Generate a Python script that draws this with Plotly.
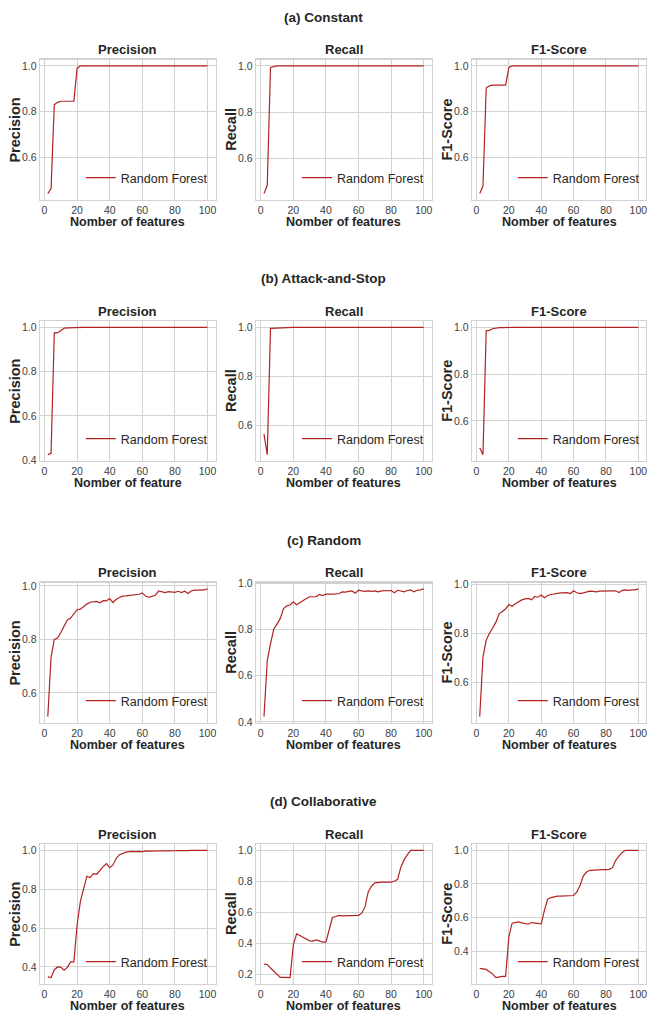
import plotly.graph_objects as go

W, H = 647, 1015

# ---------------- data ----------------
n_features = [2, 4, 6, 8, 10, 12, 14, 16, 18, 20,
              22, 24, 26, 28, 30, 32, 34, 36, 38, 40,
              42, 44, 46, 48, 50, 52, 54, 56, 58, 60,
              62, 64, 66, 68, 70, 72, 74, 76, 78, 80,
              82, 84, 86, 88, 90, 92, 94, 96, 98, 100]

constant_precision = [0.440, 0.462, 0.830, 0.840, 0.845, 0.845, 0.845, 0.845, 0.845, 0.990,
                      1.000, 1.000, 1.000, 1.000, 1.000, 1.000, 1.000, 1.000, 1.000, 1.000,
                      1.000, 1.000, 1.000, 1.000, 1.000, 1.000, 1.000, 1.000, 1.000, 1.000,
                      1.000, 1.000, 1.000, 1.000, 1.000, 1.000, 1.000, 1.000, 1.000, 1.000,
                      1.000, 1.000, 1.000, 1.000, 1.000, 1.000, 1.000, 1.000, 1.000, 1.000]
constant_recall = [0.446, 0.482, 0.993, 0.998, 1.000, 1.000, 1.000, 1.000, 1.000, 1.000,
                   1.000, 1.000, 1.000, 1.000, 1.000, 1.000, 1.000, 1.000, 1.000, 1.000,
                   1.000, 1.000, 1.000, 1.000, 1.000, 1.000, 1.000, 1.000, 1.000, 1.000,
                   1.000, 1.000, 1.000, 1.000, 1.000, 1.000, 1.000, 1.000, 1.000, 1.000,
                   1.000, 1.000, 1.000, 1.000, 1.000, 1.000, 1.000, 1.000, 1.000, 1.000]
constant_f1 = [0.442, 0.475, 0.903, 0.913, 0.916, 0.916, 0.916, 0.916, 0.916, 0.993,
               1.000, 1.000, 1.000, 1.000, 1.000, 1.000, 1.000, 1.000, 1.000, 1.000,
               1.000, 1.000, 1.000, 1.000, 1.000, 1.000, 1.000, 1.000, 1.000, 1.000,
               1.000, 1.000, 1.000, 1.000, 1.000, 1.000, 1.000, 1.000, 1.000, 1.000,
               1.000, 1.000, 1.000, 1.000, 1.000, 1.000, 1.000, 1.000, 1.000, 1.000]

attack_precision = [0.425, 0.431, 0.975, 0.976, 0.985, 0.997, 0.998, 0.999, 0.999, 1.000,
                    1.000, 1.000, 1.000, 1.000, 1.000, 1.000, 1.000, 1.000, 1.000, 1.000,
                    1.000, 1.000, 1.000, 1.000, 1.000, 1.000, 1.000, 1.000, 1.000, 1.000,
                    1.000, 1.000, 1.000, 1.000, 1.000, 1.000, 1.000, 1.000, 1.000, 1.000,
                    1.000, 1.000, 1.000, 1.000, 1.000, 1.000, 1.000, 1.000, 1.000, 1.000]
attack_recall = [0.563, 0.479, 0.996, 0.997, 0.998, 0.999, 0.999, 1.000, 1.000, 1.000,
                 1.000, 1.000, 1.000, 1.000, 1.000, 1.000, 1.000, 1.000, 1.000, 1.000,
                 1.000, 1.000, 1.000, 1.000, 1.000, 1.000, 1.000, 1.000, 1.000, 1.000,
                 1.000, 1.000, 1.000, 1.000, 1.000, 1.000, 1.000, 1.000, 1.000, 1.000,
                 1.000, 1.000, 1.000, 1.000, 1.000, 1.000, 1.000, 1.000, 1.000, 1.000]
attack_f1 = [0.485, 0.456, 0.986, 0.987, 0.994, 0.998, 0.999, 0.999, 1.000, 1.000,
             1.000, 1.000, 1.000, 1.000, 1.000, 1.000, 1.000, 1.000, 1.000, 1.000,
             1.000, 1.000, 1.000, 1.000, 1.000, 1.000, 1.000, 1.000, 1.000, 1.000,
             1.000, 1.000, 1.000, 1.000, 1.000, 1.000, 1.000, 1.000, 1.000, 1.000,
             1.000, 1.000, 1.000, 1.000, 1.000, 1.000, 1.000, 1.000, 1.000, 1.000]

random_precision = [0.511, 0.734, 0.800, 0.805, 0.826, 0.850, 0.873, 0.880, 0.897, 0.911,
                    0.913, 0.923, 0.932, 0.939, 0.940, 0.942, 0.937, 0.945, 0.944, 0.953,
                    0.938, 0.950, 0.957, 0.962, 0.963, 0.965, 0.967, 0.967, 0.969, 0.974,
                    0.962, 0.957, 0.960, 0.965, 0.981, 0.978, 0.975, 0.979, 0.978, 0.976,
                    0.980, 0.975, 0.980, 0.972, 0.981, 0.984, 0.984, 0.985, 0.985, 0.989]
random_recall = [0.423, 0.666, 0.738, 0.803, 0.824, 0.849, 0.892, 0.904, 0.907, 0.921,
                 0.908, 0.918, 0.925, 0.935, 0.943, 0.944, 0.943, 0.953, 0.948, 0.954,
                 0.953, 0.954, 0.955, 0.957, 0.964, 0.963, 0.966, 0.968, 0.958, 0.971,
                 0.968, 0.966, 0.968, 0.966, 0.968, 0.964, 0.968, 0.968, 0.968, 0.970,
                 0.960, 0.971, 0.968, 0.964, 0.970, 0.973, 0.964, 0.971, 0.973, 0.977]
random_f1 = [0.460, 0.704, 0.772, 0.801, 0.822, 0.846, 0.880, 0.891, 0.900, 0.918,
             0.911, 0.921, 0.930, 0.937, 0.941, 0.943, 0.937, 0.951, 0.948, 0.957,
             0.946, 0.955, 0.959, 0.962, 0.965, 0.966, 0.966, 0.967, 0.963, 0.974,
             0.966, 0.963, 0.966, 0.969, 0.973, 0.972, 0.970, 0.973, 0.973, 0.973,
             0.972, 0.973, 0.974, 0.967, 0.976, 0.978, 0.976, 0.978, 0.978, 0.982]

collab_precision = [0.349, 0.345, 0.386, 0.400, 0.398, 0.383, 0.398, 0.426, 0.426, 0.617,
                    0.737, 0.797, 0.867, 0.860, 0.880, 0.877, 0.899, 0.916, 0.932, 0.911,
                    0.925, 0.959, 0.978, 0.986, 0.991, 0.993, 0.995, 0.993, 0.995, 0.993,
                    0.997, 0.996, 0.997, 0.996, 0.998, 0.997, 0.998, 0.997, 0.999, 0.998,
                    0.999, 0.998, 0.999, 0.999, 1.000, 0.999, 1.000, 1.000, 1.000, 1.000]
collab_recall = [0.264, 0.262, 0.239, 0.217, 0.202, 0.179, 0.179, 0.177, 0.177, 0.389,
                 0.460, 0.449, 0.439, 0.428, 0.415, 0.413, 0.421, 0.415, 0.406, 0.406,
                 0.486, 0.566, 0.572, 0.579, 0.576, 0.576, 0.576, 0.576, 0.576, 0.580,
                 0.594, 0.636, 0.733, 0.768, 0.790, 0.794, 0.794, 0.794, 0.794, 0.794,
                 0.800, 0.813, 0.893, 0.940, 0.972, 1.000, 1.000, 1.000, 1.000, 1.000]
collab_f1 = [0.297, 0.295, 0.291, 0.277, 0.263, 0.242, 0.248, 0.250, 0.250, 0.486,
             0.566, 0.570, 0.574, 0.568, 0.564, 0.560, 0.570, 0.568, 0.564, 0.562,
             0.644, 0.709, 0.719, 0.725, 0.727, 0.727, 0.727, 0.727, 0.727, 0.731,
             0.752, 0.792, 0.848, 0.871, 0.881, 0.883, 0.884, 0.884, 0.885, 0.885,
             0.887, 0.897, 0.941, 0.966, 0.988, 1.000, 1.000, 1.000, 1.000, 1.000]

scenario_titles = ["(a) Constant", "(b) Attack-and-Stop", "(c) Random", "(d) Collaborative"]
metric_names = ["Precision", "Recall", "F1-Score"]
x_labels = [["Nomber of features", "Nomber of features", "Nomber of features"],
            ["Nomber of feature", "Nomber of features", "Nomber of features"],
            ["Nomber of features", "Nomber of features", "Nomber of features"],
            ["Nomber of features", "Nomber of features", "Nomber of features"]]
series_grid = [[constant_precision, constant_recall, constant_f1],
               [attack_precision, attack_recall, attack_f1],
               [random_precision, random_recall, random_f1],
               [collab_precision, collab_recall, collab_f1]]
series_name = "Random Forest"
x_ticks = [0, 20, 40, 60, 80, 100]

# ---------------- style / layout ----------------
RED = "#b22222"
GRID = "#d2d2d2"
TXT = "#262626"
FONT = "Liberation Sans, Arial, Helvetica, sans-serif"

# pixel boxes of the plot areas
col_px = [(39.8, 215.5), (256.0, 431.7), (471.8, 646.3)]
row_px = [(59.5, 200.0), (321.0, 461.0), (582.5, 723.0), (844.0, 984.0)]


def px_x(v):
    return v / W


def px_y(v):
    return 1 - v / H


fig = go.Figure()
annotations = []
layout = dict(
    width=W, height=H,
    margin=dict(l=0, r=0, t=0, b=0),
    paper_bgcolor="white", plot_bgcolor="white",
    template="none",
    showlegend=True,
)

xmin, xmax = min(n_features), max(n_features)
xpad = 0.05 * (xmax - xmin)

for r in range(4):
    top, bot = row_px[r]
    annotations.append(dict(
        text=scenario_titles[r], x=px_x(323.5), y=px_y(top - 42.5), xref="paper", yref="paper",
        xanchor="center", yanchor="middle", showarrow=False,
        font=dict(family=FONT, size=13.5, color=TXT, weight="bold")))
    for c in range(3):
        k = r * 3 + c + 1
        sfx = "" if k == 1 else str(k)
        left, right = col_px[c]
        vals = series_grid[r][c]
        ymin, ymax = min(vals), max(vals)
        ypad = 0.05 * (ymax - ymin)
        leg = "legend" + sfx
        fig.add_trace(go.Scatter(
            x=n_features, y=vals, mode="lines", name=series_name,
            line=dict(color=RED, width=1.2),
            xaxis="x" + sfx, yaxis="y" + sfx, legend=leg, showlegend=True))
        axis_common = dict(
            showgrid=True, gridcolor=GRID, gridwidth=1,
            showline=True, linecolor=GRID, linewidth=1.2, mirror=True,
            zeroline=False, ticks="", fixedrange=True,
            ticklabeloverflow="allow",
            tickfont=dict(family=FONT, size=10.5, color="#404040"),
        )
        layout["xaxis" + sfx] = dict(
            axis_common, domain=[px_x(left), px_x(right)], anchor="y" + sfx,
            range=[xmin - xpad, xmax + xpad], tickvals=x_ticks)
        layout["yaxis" + sfx] = dict(
            axis_common, domain=[px_y(bot), px_y(top)], anchor="x" + sfx,
            range=[ymin - ypad, ymax + ypad], dtick=0.2, tick0=0, tickformat=".1f")
        layout[leg] = dict(
            x=px_x(left + 41), y=px_y(bot - 22), xanchor="left", yanchor="middle",
            xref="paper", yref="paper",
            bgcolor="rgba(0,0,0,0)", borderwidth=0,
            font=dict(family=FONT, size=12.5, color=TXT))
        cx = (left + right) / 2
        annotations.append(dict(
            text=metric_names[c], x=px_x(cx), y=px_y(top - 10), xref="paper", yref="paper",
            xanchor="center", yanchor="middle", showarrow=False,
            font=dict(family=FONT, size=13, color=TXT, weight="bold")))
        annotations.append(dict(
            text=x_labels[r][c], x=px_x(cx), y=px_y(bot + 22), xref="paper", yref="paper",
            xanchor="center", yanchor="middle", showarrow=False,
            font=dict(family=FONT, size=12.5, color=TXT, weight="bold")))
        annotations.append(dict(
            text=metric_names[c], x=px_x(left - 25), y=px_y((top + bot) / 2),
            xref="paper", yref="paper", textangle=-90,
            xanchor="center", yanchor="middle", showarrow=False,
            font=dict(family=FONT, size=14.5, color=TXT, weight="bold")))

layout["annotations"] = annotations
fig.update_layout(**layout)
fig.write_html(
    "out.html",
    config={"displayModeBar": False, "staticPlot": True},
    post_script=("document.body.style.margin='0px';"
                 "document.body.style.overflow='hidden';"
                 "document.documentElement.style.overflow='hidden';"),
)
